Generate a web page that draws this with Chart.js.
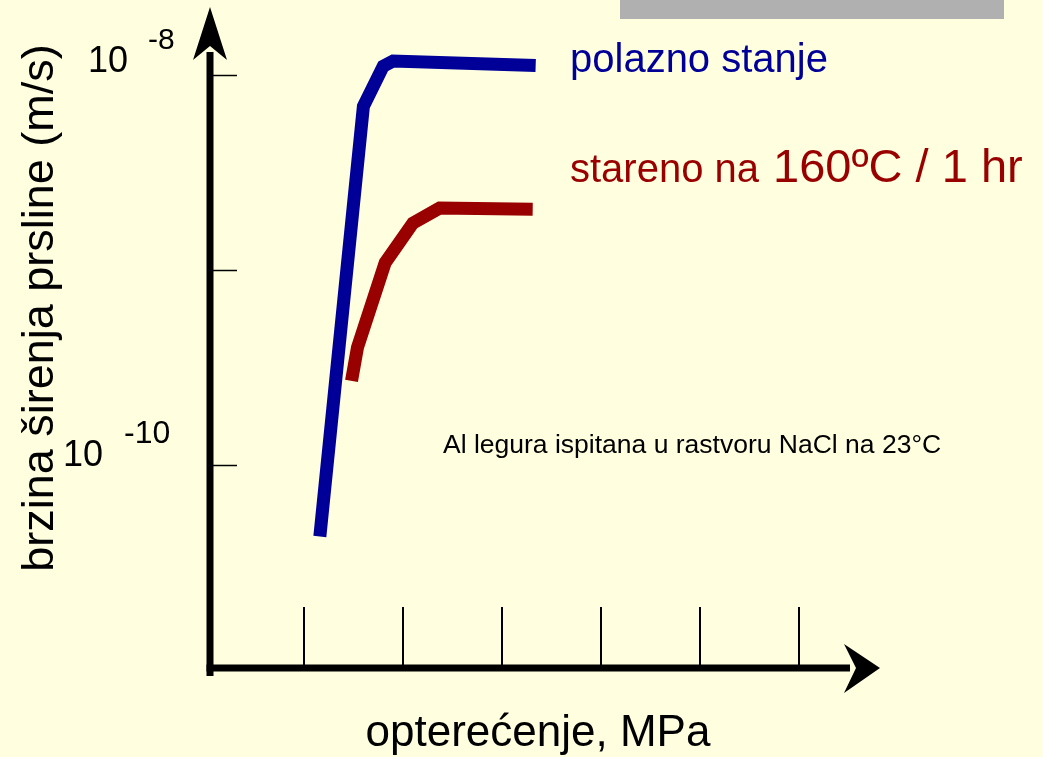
<!DOCTYPE html>
<html>
<head>
<meta charset="utf-8">
<script src="https://cdn.jsdelivr.net/npm/chart.js@4/dist/chart.umd.min.js"></script>
<style>
  html, body { margin: 0; padding: 0; background: #FFFFE0; }
  #wrap { width: 1043px; height: 757px; }
</style>
</head>
<body>
<div id="wrap"><canvas id="c" width="1043" height="757"></canvas></div>
<script>
// ---- data ----
const loadPolazno = [1.16, 1.60, 1.80, 1.90, 3.34];
const ratePolazno = [4.3e-11, 6.9e-9, 1.11e-8, 1.18e-8, 1.12e-8];
const loadStareno = [1.48, 1.54, 1.82, 2.10, 2.37, 3.31];
const rateStareno = [2.7e-10, 4.0e-10, 1.09e-9, 1.74e-9, 2.08e-9, 2.05e-9];
const xTicks = [1, 2, 3, 4, 5, 6];
const yTicks = [1e-8, 1e-9, 1e-10];
const yTickLabels = [{ v: 1e-8, base: "10", exp: "-8" }, { v: 1e-10, base: "10", exp: "-10" }];
const seriesNames = ["polazno stanje", "stareno na ", "160ºC / 1 hr"];
const xTitle = "opterećenje, MPa";
const yTitle = "brzina širenja prsline (m/s)";
const note = "Al legura ispitana u rastvoru NaCl na 23°C";

const toPts = (xs, ys) => xs.map((x, i) => ({ x: x, y: ys[i] }));
const FONT = '"Liberation Sans", Arial, sans-serif';

const decor = {
  id: 'decor',
  beforeDraw(chart) {
    const ctx = chart.ctx;
    ctx.save();
    ctx.fillStyle = '#FFFFE0';
    ctx.fillRect(0, 0, chart.width, chart.height);
    ctx.fillStyle = '#B0B0B0';
    ctx.fillRect(620, 0, 384, 19);
    ctx.restore();
  },
  beforeDatasetsDraw(chart) {
    const ctx = chart.ctx;
    const xs = chart.scales.x, ys = chart.scales.y;
    const ca = chart.chartArea;
    const ax = ca.left, ay = ca.bottom;
    ctx.save();
    ctx.strokeStyle = '#000';
    ctx.fillStyle = '#000';
    // x ticks
    ctx.lineWidth = 2;
    xTicks.forEach(t => {
      const px = Math.round(xs.getPixelForValue(t));
      ctx.beginPath(); ctx.moveTo(px, 607); ctx.lineTo(px, ay); ctx.stroke();
    });
    // y ticks
    ctx.lineWidth = 1.5;
    yTicks.forEach(t => {
      const py = Math.round(ys.getPixelForValue(t)) + 0.5;
      ctx.beginPath(); ctx.moveTo(ax, py); ctx.lineTo(ax + 27, py); ctx.stroke();
    });
    // axes
    ctx.lineWidth = 7;
    ctx.lineCap = 'butt';
    ctx.beginPath(); ctx.moveTo(ax, ay + 8); ctx.lineTo(ax, ca.top + 45); ctx.stroke();
    ctx.beginPath(); ctx.moveTo(ax - 3.5, ay); ctx.lineTo(ca.right - 30, ay); ctx.stroke();
    // arrow heads
    ctx.beginPath();
    ctx.moveTo(ax, ca.top);
    ctx.lineTo(ax - 17, ca.top + 53);
    ctx.lineTo(ax, ca.top + 39);
    ctx.lineTo(ax + 17, ca.top + 53);
    ctx.closePath(); ctx.fill();
    ctx.beginPath();
    ctx.moveTo(ca.right, ay);
    ctx.lineTo(ca.right - 36, ay - 24);
    ctx.lineTo(ca.right - 24, ay);
    ctx.lineTo(ca.right - 36, ay + 25);
    ctx.closePath(); ctx.fill();

    // y tick labels
    ctx.textAlign = 'left';
    ctx.textBaseline = 'alphabetic';
    const l8 = yTickLabels[0], l10 = yTickLabels[1];
    let py = ys.getPixelForValue(l8.v);
    ctx.font = '36px ' + FONT;
    ctx.fillText(l8.base, 88, py - 3);
    ctx.font = '30px ' + FONT;
    ctx.fillText(l8.exp, 148, py - 26);
    py = ys.getPixelForValue(l10.v);
    ctx.font = '36px ' + FONT;
    ctx.fillText(l10.base, 63, py + 1);
    ctx.font = '32px ' + FONT;
    ctx.fillText(l10.exp, 124, py - 22);

    // axis titles
    ctx.font = '44px ' + FONT;
    ctx.textAlign = 'center';
    ctx.fillText(xTitle, 538, 746);
    ctx.font = '45px ' + FONT;
    ctx.save();
    ctx.translate(53, 308);
    ctx.rotate(-Math.PI / 2);
    ctx.fillText(yTitle, 0, 0);
    ctx.restore();

    // series labels
    ctx.textAlign = 'left';
    ctx.fillStyle = '#000099';
    ctx.font = '40px ' + FONT;
    ctx.fillText(seriesNames[0], 570, 72);
    ctx.fillStyle = '#990000';
    ctx.fillText(seriesNames[1], 570, 182);
    ctx.font = '47px ' + FONT;
    ctx.fillText(seriesNames[2], 773, 182);

    // note
    ctx.fillStyle = '#000';
    ctx.font = '26.5px ' + FONT;
    ctx.fillText(note, 443, 453);
    ctx.restore();
  }
};

new Chart(document.getElementById('c'), {
  type: 'line',
  data: {
    datasets: [
      { label: seriesNames[0], data: toPts(loadPolazno, ratePolazno), borderColor: '#000099', borderWidth: 13 },
      { label: seriesNames[1] + seriesNames[2], data: toPts(loadStareno, rateStareno), borderColor: '#990000', borderWidth: 13 }
    ]
  },
  options: {
    responsive: false,
    devicePixelRatio: 1,
    animation: false,
    parsing: true,
    layout: { padding: { left: 210, right: 163, top: 7, bottom: 89 } },
    elements: {
      point: { radius: 0, hoverRadius: 0 },
      line: { tension: 0, borderCapStyle: 'butt', borderJoinStyle: 'miter', fill: false }
    },
    plugins: { legend: { display: false }, tooltip: { enabled: false } },
    scales: {
      x: { type: 'linear', min: 0.0505, max: 6.818, display: false },
      y: { type: 'logarithmic', min: Math.pow(10, -11.041), max: Math.pow(10, -7.6513), display: false }
    }
  },
  plugins: [decor]
});
</script>
</body>
</html>
